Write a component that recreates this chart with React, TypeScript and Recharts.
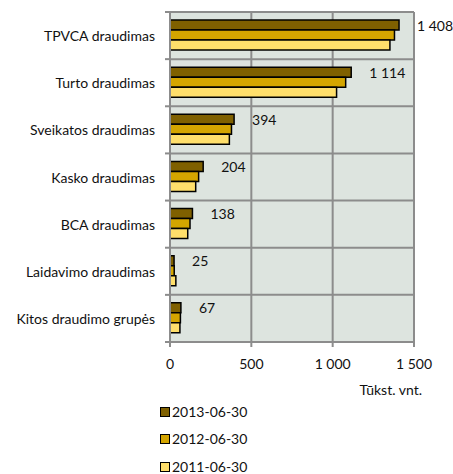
import React from "react";
import {
  BarChart,
  Bar,
  XAxis,
  YAxis,
  CartesianGrid,
  Legend,
  LabelList,
} from "recharts";

const categories = [
  "TPVCA draudimas",
  "Turto draudimas",
  "Sveikatos draudimas",
  "Kasko draudimas",
  "BCA draudimas",
  "Laidavimo draudimas",
  "Kitos draudimo grupės",
];
const series2013 = [1408, 1114, 394, 204, 138, 25, 67];
const series2012 = [1380, 1080, 378, 176, 123, 26, 64];
const series2011 = [1352, 1024, 365, 158, 109, 36, 61];
const xTicks = [0, 500, 1000, 1500];
const seriesNames = ["2013-06-30", "2012-06-30", "2011-06-30"];
const seriesColors = ["#7F6000", "#D4A500", "#FFDF6B"];
const unitLabel = "Tūkst. vnt.";

const data = categories.map((c, i) => ({
  name: c,
  s2013: series2013[i],
  s2012: series2012[i],
  s2011: series2011[i],
}));

const FONT = "Lato, 'Noto Sans', sans-serif";
const GRID = "#8C8C8C";
const TEXT = "#111";

const fmt = (v: number) => {
  const s = String(Math.round(v));
  return s.replace(/\B(?=(\d{3})+(?!\d))/g, "\u00A0");
};

const CategoryTick = (props: any) => {
  const { x, y, payload, index, visibleTicksCount } = props;
  const half = payload && payload.offset ? payload.offset : 0;
  const axisX = x + 15;
  return (
    <g>
      <line x1={axisX - 5} x2={axisX} y1={y - half} y2={y - half} stroke={GRID} strokeWidth={2} />
      {index === (visibleTicksCount ?? categories.length) - 1 && (
        <line x1={axisX - 5} x2={axisX} y1={y + half} y2={y + half} stroke={GRID} strokeWidth={2} />
      )}
      <text
        x={x}
        y={y}
        textAnchor="end"
        dominantBaseline="central"
        fontFamily={FONT}
        fontSize={14}
        fill={TEXT}
      >
        {payload.value}
      </text>
    </g>
  );
};

const BarValueLabel = (props: any) => {
  const { x, y, width, height, value } = props;
  return (
    <text
      x={x + width + 18}
      y={y + height / 2}
      dominantBaseline="central"
      fontFamily={FONT}
      fontSize={14}
      fill={TEXT}
    >
      {fmt(Number(value))}
    </text>
  );
};

const LegendContent = () => (
  <div style={{ fontFamily: FONT, fontSize: 14, color: TEXT, lineHeight: "16px" }}>
    {seriesNames.map((n, i) => (
      <div key={n} style={{ display: "flex", alignItems: "center", height: 27.5 }}>
        <span
          style={{
            display: "inline-block",
            width: 8,
            height: 8,
            background: seriesColors[i],
            border: "1.5px solid #000",
            marginRight: 2,
          }}
        />
        <span>{n}</span>
      </div>
    ))}
  </div>
);

export default function App() {
  return (
    <div style={{ position: "absolute", left: 0, top: 0, width: 453, height: 474, background: "#fff" }}>
      <BarChart
        width={453}
        height={474}
        data={data}
        layout="vertical"
        margin={{ top: 12, right: 39, left: 0, bottom: 87 }}
        barCategoryGap="17%"
        barGap={0}
      >
        <CartesianGrid
          fill="#DDE4DF"
          stroke={GRID}
          strokeWidth={2}
          horizontalCoordinatesGenerator={({ offset }: any) =>
            Array.from(
              { length: categories.length + 1 },
              (_, i) => offset.top + (i * offset.height) / categories.length
            )
          }
        />
        <XAxis
          type="number"
          domain={[0, 1500]}
          ticks={xTicks}
          tickFormatter={fmt}
          height={45}
          tickSize={5}
          tickMargin={12}
          tick={{ fontFamily: FONT, fontSize: 14, fill: TEXT }}
          axisLine={{ stroke: GRID, strokeWidth: 2 }}
          tickLine={{ stroke: GRID, strokeWidth: 2 }}
          label={{
            value: unitLabel,
            position: "insideBottomRight",
            offset: -8,
            fontFamily: FONT,
            fontSize: 14,
            fill: TEXT,
          }}
        />
        <YAxis
          type="category"
          dataKey="name"
          width={170}
          tickSize={5}
          tickMargin={10}
          tickLine={false}
          axisLine={{ stroke: GRID, strokeWidth: 2 }}
          tick={<CategoryTick />}
          interval={0}
        />
        <Legend
          layout="vertical"
          align="center"
          verticalAlign="middle"
          wrapperStyle={{ top: 398, left: 160, width: "auto", height: "auto" }}
          content={<LegendContent />}
        />
        <Bar dataKey="s2013" name={seriesNames[0]} fill={seriesColors[0]} stroke="#000" strokeWidth={1.5} isAnimationActive={false}>
          <LabelList dataKey="s2013" content={<BarValueLabel />} />
        </Bar>
        <Bar dataKey="s2012" name={seriesNames[1]} fill={seriesColors[1]} stroke="#000" strokeWidth={1.5} isAnimationActive={false} />
        <Bar dataKey="s2011" name={seriesNames[2]} fill={seriesColors[2]} stroke="#000" strokeWidth={1.5} isAnimationActive={false} />
      </BarChart>
    </div>
  );
}
